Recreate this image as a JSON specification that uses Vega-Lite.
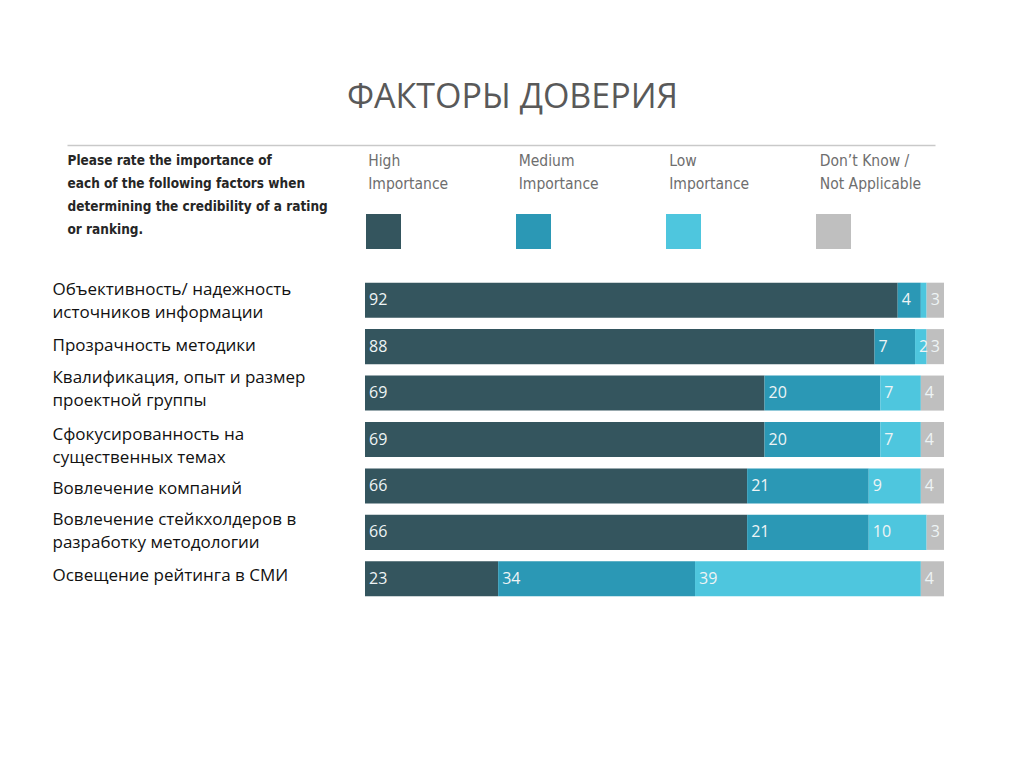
{
  "$schema": "https://vega.github.io/schema/vega-lite/v6.json",
  "width": 579,
  "height": 325,
  "autosize": {"type": "none"},
  "padding": {"left": 365, "top": 277, "right": 80, "bottom": 166},
  "background": "white",
  "title": {"text": "ФАКТОРЫ ДОВЕРИЯ", "font": "Open Sans", "fontSize": 34, "fontWeight": "normal", "color": "#595959", "anchor": "middle", "dx": -142, "offset": 30},
  "data": {"values": [
    {"factor": "Объективность/ надежность|источников информации", "category": "High|Importance", "rank": 1, "value": 92},
    {"factor": "Объективность/ надежность|источников информации", "category": "Medium|Importance", "rank": 2, "value": 4},
    {"factor": "Объективность/ надежность|источников информации", "category": "Low|Importance", "rank": 3, "value": 1},
    {"factor": "Объективность/ надежность|источников информации", "category": "Don’t Know /|Not Applicable", "rank": 4, "value": 3},
    {"factor": "Прозрачность методики", "category": "High|Importance", "rank": 1, "value": 88},
    {"factor": "Прозрачность методики", "category": "Medium|Importance", "rank": 2, "value": 7},
    {"factor": "Прозрачность методики", "category": "Low|Importance", "rank": 3, "value": 2},
    {"factor": "Прозрачность методики", "category": "Don’t Know /|Not Applicable", "rank": 4, "value": 3},
    {"factor": "Квалификация, опыт и размер|проектной группы", "category": "High|Importance", "rank": 1, "value": 69},
    {"factor": "Квалификация, опыт и размер|проектной группы", "category": "Medium|Importance", "rank": 2, "value": 20},
    {"factor": "Квалификация, опыт и размер|проектной группы", "category": "Low|Importance", "rank": 3, "value": 7},
    {"factor": "Квалификация, опыт и размер|проектной группы", "category": "Don’t Know /|Not Applicable", "rank": 4, "value": 4},
    {"factor": "Сфокусированность на|существенных темах", "category": "High|Importance", "rank": 1, "value": 69},
    {"factor": "Сфокусированность на|существенных темах", "category": "Medium|Importance", "rank": 2, "value": 20},
    {"factor": "Сфокусированность на|существенных темах", "category": "Low|Importance", "rank": 3, "value": 7},
    {"factor": "Сфокусированность на|существенных темах", "category": "Don’t Know /|Not Applicable", "rank": 4, "value": 4},
    {"factor": "Вовлечение компаний", "category": "High|Importance", "rank": 1, "value": 66},
    {"factor": "Вовлечение компаний", "category": "Medium|Importance", "rank": 2, "value": 21},
    {"factor": "Вовлечение компаний", "category": "Low|Importance", "rank": 3, "value": 9},
    {"factor": "Вовлечение компаний", "category": "Don’t Know /|Not Applicable", "rank": 4, "value": 4},
    {"factor": "Вовлечение стейкхолдеров в|разработку методологии", "category": "High|Importance", "rank": 1, "value": 66},
    {"factor": "Вовлечение стейкхолдеров в|разработку методологии", "category": "Medium|Importance", "rank": 2, "value": 21},
    {"factor": "Вовлечение стейкхолдеров в|разработку методологии", "category": "Low|Importance", "rank": 3, "value": 10},
    {"factor": "Вовлечение стейкхолдеров в|разработку методологии", "category": "Don’t Know /|Not Applicable", "rank": 4, "value": 3},
    {"factor": "Освещение рейтинга в СМИ", "category": "High|Importance", "rank": 1, "value": 23},
    {"factor": "Освещение рейтинга в СМИ", "category": "Medium|Importance", "rank": 2, "value": 34},
    {"factor": "Освещение рейтинга в СМИ", "category": "Low|Importance", "rank": 3, "value": 39},
    {"factor": "Освещение рейтинга в СМИ", "category": "Don’t Know /|Not Applicable", "rank": 4, "value": 4}
  ]},
  "layer": [
    {
      "transform": [
        {"stack": "value", "groupby": ["factor"], "sort": [{"field": "rank", "order": "ascending"}], "as": ["x0", "x1"]}
      ],
      "layer": [
        {
          "mark": {"type": "bar", "strokeWidth": 0},
          "encoding": {
            "y": {
              "field": "factor", "type": "nominal",
              "sort": ["Объективность/ надежность|источников информации", "Прозрачность методики", "Квалификация, опыт и размер|проектной группы", "Сфокусированность на|существенных темах", "Вовлечение компаний", "Вовлечение стейкхолдеров в|разработку методологии", "Освещение рейтинга в СМИ"],
              "scale": {"paddingInner": 0.245, "paddingOuter": 0.1225},
              "axis": {
                "title": ["Please rate the importance of", "each of the following factors when", "determining the credibility of a rating", "or ranking."],
                "titleAngle": 0, "titleAlign": "left", "titleBaseline": "top",
                "titleX": -298, "titleY": -124,
                "titleFont": "Liberation Sans Narrow, DejaVu Sans Condensed, sans-serif",
                "titleFontSize": 13.5, "titleFontWeight": "bold", "titleColor": "#262626", "titleLineHeight": 23,
                "ticks": false, "domain": false, "grid": false,
                "labelAlign": "left", "labelBaseline": "middle", "labelPadding": 313, "labelLimit": 400,
                "labelOffset": {
                  "condition": [
                    {"test": "datum.label == 'Объективность/ надежность|источников информации'", "value": -10.5},
                    {"test": "datum.label == 'Прозрачность методики'", "value": -1},
                    {"test": "datum.label == 'Квалификация, опыт и размер|проектной группы'", "value": -15},
                    {"test": "datum.label == 'Сфокусированность на|существенных темах'", "value": -4.5},
                    {"test": "datum.label == 'Вовлечение компаний'", "value": 3},
                    {"test": "datum.label == 'Вовлечение стейкхолдеров в|разработку методологии'", "value": -12}
                  ],
                  "value": -3
                },
                "labelFont": "Open Sans", "labelFontSize": 17, "labelColor": "#111111", "labelLineHeight": 23,
                "labelExpr": "split(datum.label, '|')"
              }
            },
            "x": {"field": "x0", "type": "quantitative", "scale": {"domain": [0, 100]}, "axis": null},
            "x2": {"field": "x1"},
            "color": {
              "field": "category", "type": "nominal",
              "scale": {"domain": ["High|Importance", "Medium|Importance", "Low|Importance", "Don’t Know /|Not Applicable"], "range": ["#34555e", "#2b98b5", "#4ec6de", "#bfbfbf"]},
              "legend": {
                "orient": "none", "legendX": 1, "legendY": -63,
                "direction": "horizontal", "columns": 4, "title": null,
                "symbolType": "square", "symbolSize": 1225, "symbolStrokeWidth": 0, "symbolOpacity": 1,
                "labelOffset": 0, "labelExpr": "''", "labelFontSize": 1,
                "gridAlign": "all", "columnPadding": 115, "padding": 0
              }
            }
          }
        },
        {
          "transform": [{"filter": "datum.value >= 2"}],
          "mark": {"type": "text", "align": "left", "baseline": "middle", "dx": 4, "font": "Open Sans", "fontSize": 16, "color": "#eef4f5"},
          "encoding": {
            "y": {"field": "factor", "type": "nominal", "sort": ["Объективность/ надежность|источников информации", "Прозрачность методики", "Квалификация, опыт и размер|проектной группы", "Сфокусированность на|существенных темах", "Вовлечение компаний", "Вовлечение стейкхолдеров в|разработку методологии", "Освещение рейтинга в СМИ"]},
            "x": {"field": "x0", "type": "quantitative", "scale": {"domain": [0, 100]}},
            "text": {"field": "value", "type": "quantitative"}
          }
        }
      ]
    },
    {
      "mark": {"type": "point", "opacity": 0},
      "encoding": {
        "x": {
          "field": "category", "type": "nominal",
          "sort": ["High|Importance", "Medium|Importance", "Low|Importance", "Don’t Know /|Not Applicable"],
          "scale": {"type": "band", "range": [-298, 570], "paddingInner": 0.2193, "paddingOuter": 0.9934, "align": 1},
          "axis": {
            "orient": "top", "offset": 132, "domainColor": "#c9c9c9", "domainWidth": 1.5,
            "ticks": false, "grid": false, "title": null, "bandPosition": 0,
            "labelAlign": "left", "labelBaseline": "top", "labelPadding": -8, "labelOffset": -56.5, "labelAngle": 0,
            "labelExpr": "split(datum.label, '|')", "labelLineHeight": 23,
            "labelFont": "Liberation Sans Narrow, DejaVu Sans Condensed, sans-serif",
            "labelFontSize": 15.5, "labelColor": "#6e6e6e", "labelLimit": 200, "labelOverlap": false, "labelBound": false
          }
        }
      }
    }
  ],
  "resolve": {"scale": {"x": "independent"}, "axis": {"x": "independent"}},
  "config": {"view": {"stroke": null}}
}
